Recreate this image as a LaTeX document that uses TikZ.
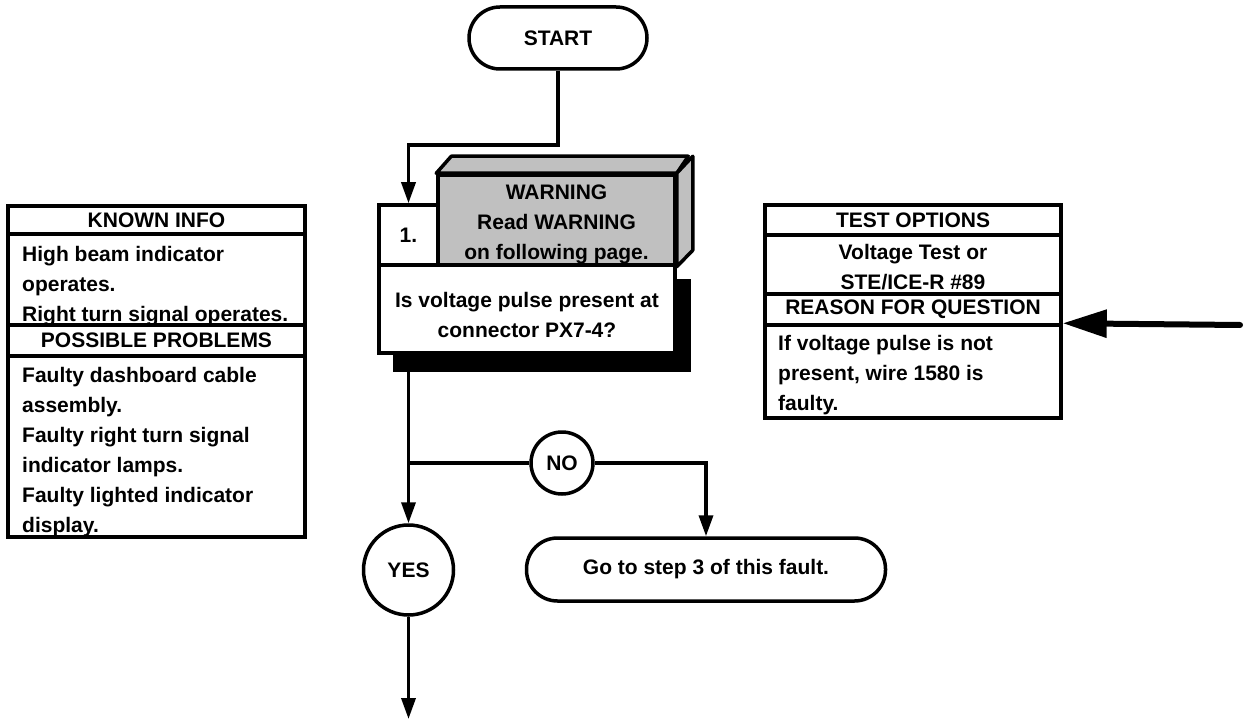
\documentclass[tikz,border=0pt]{standalone}
\usepackage{fontspec}
\setmainfont{Liberation Sans}
\usetikzlibrary{arrows.meta}
\definecolor{warngray}{RGB}{192,192,192}
\begin{document}
\begin{tikzpicture}[x=1pt,y=-1pt,
  font=\fontsize{21pt}{30pt}\selectfont\bfseries,
  box/.style={draw, line width=3.5pt, fill=white, inner sep=0pt, line join=miter},
  term/.style={draw, line width=3.5pt, fill=white, rounded corners=31pt, inner sep=0pt},
  circ/.style={draw, circle, line width=3.5pt, fill=white, inner sep=0pt},
  txt/.style={inner sep=0pt},
  line/.style={line width=3.5pt},
  conn/.style={line width=3.5pt, -{Triangle[length=21pt,width=14pt]}},
  bigarrow/.style={line width=6pt, line cap=round, -{Triangle[length=44pt,width=27pt]}}]
\useasboundingbox (0,0) rectangle (1244,719);

% START
\node[term, minimum width=178pt, minimum height=62pt] (start) at (558,38) {START};

% step 1 block
\node[fill=black, inner sep=0pt, minimum width=298pt, minimum height=93pt] (shadow) at (542,325.5) {};
\node[box, minimum width=296pt, minimum height=88pt] (q) at (527,309) {};
\node[txt, anchor=north, align=center] (qt) at (527,292) {Is voltage pulse present at\\connector PX7-4?};
\node[box, minimum width=59pt, minimum height=60pt] (num) at (408.5,235) {1.};
\node[box, fill=warngray, minimum width=237pt, minimum height=90pt] (warn) at (556.5,220) {};
\filldraw[fill=warngray, line width=3.5pt, line join=round]
  (warn.north west) -- ++(15,-17) -- ++(237,0) -- (warn.north east) -- cycle;
\filldraw[fill=warngray, line width=3.5pt, line join=round]
  (warn.south east) -- (warn.north east) -- ++(16,-17) -- ++(0,94) -- cycle;
\node[txt, anchor=north, align=center] (wt) at (556.5,185) {WARNING\\Read WARNING\\on following page.};

% decision branches
\node[circ, minimum size=62pt] (no) at (562,463) {NO};
\node[circ, minimum size=90pt] (yes) at (408.5,570) {YES};
\node[term, minimum width=359pt, minimum height=63pt] (go) at (706,569.5) {Go to step 3 of this fault.};

\coordinate (bend) at (408.5,145);
\coordinate (br) at (408.5,463);
\coordinate (end) at (408.5,719);
\draw[conn] (start.south) |- (bend) -- (num.north);
\draw[conn] (num.south |- q.south) -- (yes.north);
\draw[line] (br) -- (no.west);
\draw[conn] (no.east) -| (go.north);
\draw[conn] (yes.south) -- (end);

% KNOWN INFO
\node[box, minimum width=297pt, minimum height=28pt] (k1) at (156.5,220) {KNOWN INFO};
\node[box, minimum width=297pt, minimum height=91pt] (k2) at (156.5,279.5) {};
\node[box, minimum width=297pt, minimum height=31pt] (k3) at (156.5,340.5) {POSSIBLE PROBLEMS};
\node[box, minimum width=297pt, minimum height=181pt] (k4) at (156.5,446.5) {};
\node[txt, anchor=north west, align=left] (k2t) at (22,246) {High beam indicator\\operates.\\Right turn signal operates.};
\node[txt, anchor=north west, align=left] (k4t) at (22,367) {Faulty dashboard cable\\assembly.\\Faulty right turn signal\\indicator lamps.\\Faulty lighted indicator\\display.};

% TEST OPTIONS
\node[box, minimum width=296pt, minimum height=30pt] (t1) at (913,220) {TEST OPTIONS};
\node[box, minimum width=296pt, minimum height=59pt] (t2) at (913,264.5) {};
\node[box, minimum width=296pt, minimum height=31pt] (t3) at (913,309.5) {REASON FOR QUESTION};
\node[box, minimum width=296pt, minimum height=93pt] (t4) at (913,371.5) {};
\node[txt, anchor=north, align=center] (t2t) at (913,244) {Voltage Test or\\STE/ICE-R \#89};
\node[txt, anchor=north west, align=left] (t4t) at (778,335) {If voltage pulse is not\\present, wire 1580 is\\faulty.};

\coordinate (atail) at (1240,325);
\draw[bigarrow] (atail) -- (t4.north east);
\end{tikzpicture}
\end{document}
